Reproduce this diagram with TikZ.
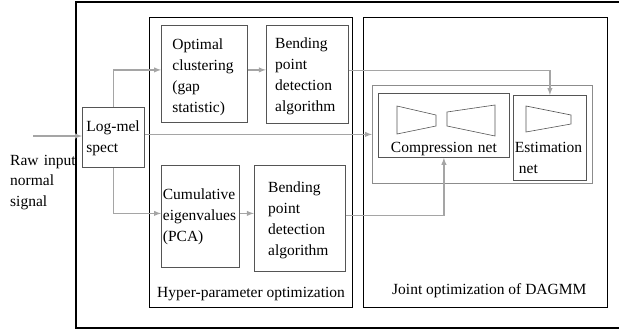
\documentclass[tikz,border=0pt]{standalone}
\usepackage{fontspec}
\setmainfont{Liberation Serif}
\usepackage{tikz}
\usetikzlibrary{positioning, arrows}

\definecolor{flowgray}{RGB}{165,165,165}
\definecolor{boxgray}{RGB}{85,85,85}
\definecolor{framegray}{RGB}{140,140,140}

\begin{document}
\begin{tikzpicture}[x=1pt, y=-1pt, >=latex,
    font=\rmfamily\fontsize{15.5}{21}\selectfont,
    blk/.style={draw=boxgray, line width=0.8pt, anchor=north west, inner ysep=0pt, align=left},
    grp/.style={draw, line width=1.2pt, anchor=north west, inner sep=0pt},
    flow/.style={->, draw=flowgray, line width=1.4pt}]

    \useasboundingbox (0,0) rectangle (619,333);

    % outer frame, open on the right
    \draw[line width=1.6pt] (619,2) -- (76,2) -- (76,328) -- (619,328);

    \node[grp, minimum width=203pt, minimum height=290pt] (hyper) at (149,17) {};
    \node[grp, minimum width=244pt, minimum height=290pt] (joint) at (363,17) {};

    \node[blk, inner xsep=4pt, text width=54pt, text height=24pt, text depth=36pt] (logmel) at (82,107) {Log-mel\\spect};
    \node[blk, inner xsep=11pt, text width=64pt, text height=24pt, text depth=73pt] (clust) at (161,25) {Optimal\\clustering\\(gap\\statistic)};
    \node[blk, inner xsep=9pt, text width=64pt, text height=23pt, text depth=75pt, right=18pt of clust.north east, anchor=north west] (bend1) {Bending\\point\\detection\\algorithm};
    \node[blk, inner xsep=1.5pt, text width=75pt, text height=34pt, text depth=68pt] (cumul) at (161,165) {Cumulative\\eigenvalues\\(PCA)};
    \node[blk, inner xsep=14pt, text width=63pt, text height=27pt, text depth=79pt, right=14pt of cumul.north east, anchor=north west] (bend2) {Bending\\point\\detection\\algorithm};

    \node[draw=framegray, line width=1pt, anchor=north west, minimum width=220pt, minimum height=98pt, inner sep=0pt] (dagmm) at (372,85) {};
    \node[blk, inner xsep=0pt, text width=131pt, align=center, text height=59pt, text depth=5pt] (comp) at (378,93) {Compression net};
    \node[blk, inner xsep=1.5pt, text width=70pt, text height=57pt, text depth=28pt] (est) at (513,95) {Estimation\\\hspace*{4pt}net};

    \draw[boxgray, line width=0.6pt] (397,106) -- (436,115) -- (436,126) -- (397,134) -- cycle;
    \draw[boxgray, line width=0.6pt] (447,112) -- (495,105) -- (495,136) -- (447,126) -- cycle;
    \draw[boxgray, line width=0.6pt] (526,106) -- (571,115) -- (571,124) -- (526,132) -- cycle;

    \node[anchor=base west, inner sep=0pt, text width=72pt, align=left, font=\fontsize{15.5}{20.5}\selectfont] (rawin) at (10,165) {Raw input\\normal\\signal};
    \node[anchor=base west, inner sep=0pt] (hyptxt) at (157,297) {Hyper-parameter optimization};
    \node[anchor=base west, inner sep=0pt] (jointtxt) at (392,294) {Joint optimization of DAGMM};

    \coordinate (rawstart) at (33,136);
    \draw[flow] (rawstart) -- (rawstart -| logmel.west);
    \draw[flow] (logmel.north) |- ([yshift=4pt]clust.west);
    \draw[flow] ([yshift=4pt]clust.east) -- ([yshift=4pt]clust.east -| bend1.west);
    \draw[flow] ([yshift=4pt]bend1.east) -| (est.north);
    \draw[flow] ([yshift=3pt]logmel.east) -- ([yshift=3pt]logmel.east -| dagmm.west);
    \draw[flow] (logmel.south) |- ([yshift=3pt]cumul.west);
    \draw[flow] ([yshift=3pt]cumul.east) -- ([yshift=3pt]cumul.east -| bend2.west);
    \draw[flow] ([yshift=3pt]bend2.east) -| (comp.south);
\end{tikzpicture}
\end{document}
